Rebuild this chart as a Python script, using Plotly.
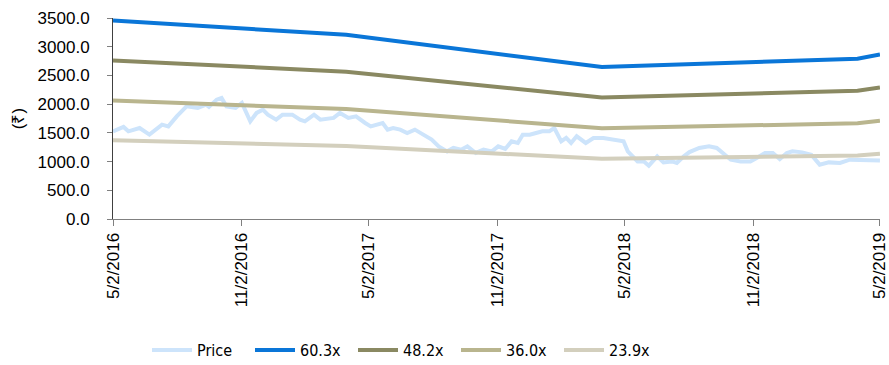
import plotly.graph_objects as go
import numpy as np

# Daily closing price (sampled), in rupees
price_dates = [
    "2016-05-02", "2016-05-17", "2016-05-24", "2016-06-09", "2016-06-23", "2016-07-11",
    "2016-07-20", "2016-08-01", "2016-08-15", "2016-08-31", "2016-09-12", "2016-09-16",
    "2016-09-27", "2016-10-04", "2016-10-11", "2016-10-24", "2016-11-02", "2016-11-07",
    "2016-11-14", "2016-11-23", "2016-12-02", "2016-12-09", "2016-12-21", "2016-12-30",
    "2017-01-13", "2017-01-24", "2017-01-31", "2017-02-13", "2017-02-22", "2017-03-13",
    "2017-03-22", "2017-04-03", "2017-04-14", "2017-04-27", "2017-05-05", "2017-05-22",
    "2017-05-29", "2017-06-06", "2017-06-16", "2017-06-26", "2017-07-07", "2017-07-19",
    "2017-07-31", "2017-08-10", "2017-08-22", "2017-08-31", "2017-09-11", "2017-09-20",
    "2017-10-02", "2017-10-13", "2017-10-25", "2017-11-03", "2017-11-13", "2017-11-22",
    "2017-12-01", "2017-12-08", "2017-12-18", "2017-12-27", "2018-01-05", "2018-01-15",
    "2018-01-22", "2018-02-01", "2018-02-08", "2018-02-15", "2018-02-23", "2018-03-08",
    "2018-03-19", "2018-04-02", "2018-04-16", "2018-05-01", "2018-05-07", "2018-05-21",
    "2018-05-30", "2018-06-06", "2018-06-18", "2018-06-27", "2018-07-09", "2018-07-16",
    "2018-07-26", "2018-08-03", "2018-08-17", "2018-08-31", "2018-09-11", "2018-09-20",
    "2018-10-01", "2018-10-15", "2018-10-29", "2018-11-07", "2018-11-19", "2018-11-30",
    "2018-12-10", "2018-12-20", "2018-12-28", "2019-01-11", "2019-01-24", "2019-02-01",
    "2019-02-05", "2019-02-18", "2019-03-06", "2019-03-20", "2019-04-03", "2019-04-17",
    "2019-05-02",
]
price_values = [
    1526, 1603, 1526, 1585, 1469, 1643,
    1613, 1787, 1961, 1933, 1991, 1951,
    2078, 2108, 1961, 1933, 2021, 1875,
    1700, 1847, 1904, 1817, 1730, 1817,
    1817, 1730, 1700, 1817, 1730, 1760,
    1847, 1760, 1787, 1672, 1613, 1672,
    1556, 1585, 1556, 1498, 1556, 1469,
    1382, 1265, 1178, 1237, 1207, 1265,
    1150, 1207, 1178, 1265, 1220, 1352,
    1324, 1469, 1469, 1498, 1526, 1526,
    1585, 1352, 1411, 1324, 1440, 1324,
    1411, 1411, 1382, 1352, 1178, 1003,
    1003, 929, 1091, 986, 1003, 976,
    1091, 1165, 1237, 1265, 1237, 1150,
    1033, 1003, 1003, 1063, 1150, 1150,
    1045, 1150, 1178, 1160, 1120, 1003,
    946, 986, 976, 1033, 1033, 1021,
    1020,
]

# Blended forward EPS at the fiscal-year pivots, used for the P/E bands
eps_dates = ["2016-05-02", "2017-03-31", "2018-03-31", "2019-03-31", "2019-05-02"]
eps_values = [57.3, 53.2, 43.9, 46.3, 47.5]

band_multiples = [60.3, 48.2, 36.0, 23.9]
band_labels = ["60.3x", "48.2x", "36.0x", "23.9x"]
band_colors = ["#0a76d8", "#8a8962", "#b9b58e", "#d3cfbd"]

tick_dates = ["2016-05-02", "2016-11-02", "2017-05-02", "2017-11-02",
              "2018-05-02", "2018-11-02", "2019-05-02"]
tick_text = ["5/2/2016", "11/2/2016", "5/2/2017", "11/2/2017",
             "5/2/2018", "11/2/2018", "5/2/2019"]

y_ticks = [0, 500, 1000, 1500, 2000, 2500, 3000, 3500]

fig = go.Figure()

fig.add_trace(go.Scatter(
    x=price_dates, y=price_values, mode="lines", name="Price",
    line=dict(color="#cde4fb", width=4),
))

eps = np.array(eps_values)
for mult, label, color in zip(band_multiples, band_labels, band_colors):
    fig.add_trace(go.Scatter(
        x=eps_dates, y=eps * mult, mode="lines", name=label,
        line=dict(color=color, width=4),
    ))

fig.update_layout(
    width=889, height=365,
    margin=dict(l=113, r=9, t=18, b=146, autoexpand=False),
    paper_bgcolor="white", plot_bgcolor="white",
    font=dict(family="Liberation Sans, Arial, sans-serif", size=17, color="#000000"),
    showlegend=True,
    legend=dict(
        orientation="h", xref="container", yref="container",
        x=147 / 889, xanchor="left", y=1 - 350 / 365, yanchor="middle",
        font=dict(family="DejaVu Sans Condensed, Liberation Sans, sans-serif", size=16),
        itemwidth=40, entrywidth=48, entrywidthmode="pixels",
        bgcolor="rgba(0,0,0,0)",
    ),
)

fig.update_xaxes(
    type="date", range=["2016-05-02", "2019-05-02 02:00"],
    tickvals=tick_dates, ticktext=tick_text, tickangle=-90,
    ticklabeloverflow="allow",
    showgrid=False, zeroline=False, automargin=False,
    showline=True, linecolor="#808080", linewidth=1,
    ticks="outside", ticklen=6, tickcolor="#808080",
    tickfont=dict(size=17),
)

fig.update_yaxes(
    range=[0, 3500], tickvals=y_ticks,
    tickformat=".1f", automargin=False,
    showgrid=False, zeroline=False,
    showline=True, linecolor="#404040", linewidth=1,
    ticks="outside", ticklen=5, tickcolor="#808080",
    ticklabelstandoff=14,
    tickfont=dict(size=17),
    title=dict(text="(₹)", font=dict(size=17), standoff=8),
)

fig.write_html("out.html")
